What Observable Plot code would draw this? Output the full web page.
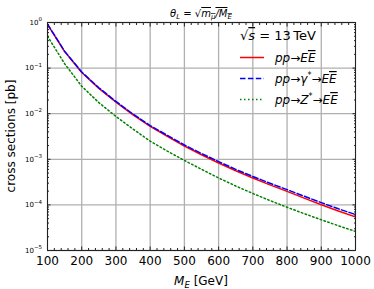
<!DOCTYPE html>
<html>
<head>
<meta charset="utf-8">
<script src="https://cdn.jsdelivr.net/npm/d3@7"></script>
<script src="https://cdn.jsdelivr.net/npm/@observablehq/plot@0.6"></script>
<style>
  html, body { margin: 0; padding: 0; background: #fff; }
  svg { display: block; }
</style>
</head>
<body>
<div id="chart"></div>
<script>
// ---- data ----
const massGeV = [100, 150, 200, 250, 300, 350, 400, 450, 500, 550, 600, 650, 700, 750, 800, 850, 900, 950, 1000];
const sigmaTotal = [0.91, 0.23, 0.080, 0.036, 0.018, 0.0094, 0.0053, 0.0032, 0.00195, 0.00126, 0.00083, 0.00056, 0.00039, 0.000275, 0.000198, 0.000141, 0.000101, 0.0000735, 0.0000545];
const sigmaGamma = [0.92, 0.235, 0.082, 0.037, 0.0186, 0.0098, 0.0055, 0.00335, 0.00206, 0.00134, 0.00089, 0.0006, 0.00042, 0.000298, 0.000216, 0.000155, 0.000112, 0.000082, 0.0000615];
const sigmaZ = [0.50, 0.125, 0.040, 0.0175, 0.0087, 0.0046, 0.0025, 0.00151, 0.000944, 0.000603, 0.000389, 0.00026, 0.000178, 0.0001245, 0.0000887, 0.0000643, 0.0000471, 0.0000349, 0.0000263];
const seriesNames = ["total", "gamma", "Z"];
const xTickValues = [100, 200, 300, 400, 500, 600, 700, 800, 900, 1000];
const yTickExponents = [0, -1, -2, -3, -4, -5];

// ---- derived tables ----
const rows = [];
[sigmaTotal, sigmaGamma, sigmaZ].forEach((arr, k) => {
  arr.forEach((v, i) => rows.push({series: seriesNames[k], m: massGeV[i], s: v}));
});
const yTicks = yTickExponents.map(e => Math.pow(10, e));
const xMinor = d3.range(100, 1001, 20).filter(v => v % 100 !== 0);
const yMinor = [];
for (let e = -5; e < 0; e++) for (let k = 2; k <= 9; k++) yMinor.push(k * Math.pow(10, e));

const gridStyle = {stroke: "#b0b0b0", strokeOpacity: 1, strokeWidth: 1.3};
const axisColor = "#222";

const svg = Plot.plot({
  width: 374,
  height: 289,
  marginLeft: 47,
  marginRight: 19,
  marginTop: 22,
  marginBottom: 39,
  style: {fontFamily: "DejaVu Sans", background: "#fff", color: axisColor},
  x: {domain: [100, 1000], axis: null},
  y: {type: "log", domain: [1e-5, 1], axis: null},
  marks: [
    Plot.gridX(xTickValues, gridStyle),
    Plot.gridY(yTicks, gridStyle),
    Plot.line(rows.filter(d => d.series === "total"), {x: "m", y: "s", stroke: "#ff0000", strokeWidth: 1.5, clip: true}),
    Plot.line(rows.filter(d => d.series === "gamma"), {x: "m", y: "s", stroke: "#0000ff", strokeWidth: 1.5, strokeDasharray: "5.5,2.4", clip: true}),
    Plot.line(rows.filter(d => d.series === "Z"), {x: "m", y: "s", stroke: "#008000", strokeWidth: 1.5, strokeDasharray: "1.5,2.5", clip: true}),
    Plot.frame({stroke: axisColor, strokeWidth: 1}),
    // major ticks inward
    Plot.axisX(xTickValues, {anchor: "bottom", tickSize: -3.5, tickPadding: 9, fontSize: 12, label: null, stroke: axisColor, fill: "#000",
      tickFormat: d => String(d)}),
    Plot.axisX(xTickValues, {anchor: "top", tickSize: -3.5, fill: "none", label: null, stroke: axisColor}),
    Plot.axisX(xMinor, {anchor: "bottom", tickSize: -2, fill: "none", label: null, stroke: axisColor}),
    Plot.axisX(xMinor, {anchor: "top", tickSize: -2, fill: "none", label: null, stroke: axisColor}),
    Plot.axisY(yTicks, {anchor: "left", tickSize: -3.5, tickPadding: 9, fontSize: 7, label: null, stroke: axisColor, fill: "#000",
      tickFormat: d => "10^" + Math.round(Math.log10(d))}),
    Plot.axisY(yTicks, {anchor: "right", tickSize: -3.5, fill: "none", label: null, stroke: axisColor}),
    Plot.axisY(yMinor, {anchor: "left", tickSize: -2, fill: "none", label: null, stroke: axisColor}),
    Plot.axisY(yMinor, {anchor: "right", tickSize: -2, fill: "none", label: null, stroke: axisColor})
  ]
});

const s = d3.select(svg);

// superscript y tick labels
s.selectAll('g[aria-label="y-axis tick label"] text').each(function() {
  const txt = this.textContent;
  const exp = txt.split("^")[1].replace("-", "\u2212");
  const el = d3.select(this);
  el.text(null);
  el.append("tspan").text("10");
  el.append("tspan").attr("dy", "-3.5").attr("font-size", 5.5).text(exp);
});

// title
const title = s.append("text").attr("x", 201).attr("y", 17).attr("text-anchor", "middle")
  .attr("font-size", 10).attr("fill", "#000");
title.append("tspan").attr("font-style", "italic").text("\u03b8");
title.append("tspan").attr("font-size", 7).attr("dy", 2).attr("font-style", "italic").text("L");
title.append("tspan").attr("dy", -2).text(" = \u221a");
title.append("tspan").attr("style", "text-decoration: overline").attr("font-style", "italic").text("m");
title.append("tspan").attr("font-size", 7).attr("dy", 2).attr("font-style", "italic").attr("style", "text-decoration: overline").text("\u03bc");
title.append("tspan").attr("dy", -2).attr("font-style", "italic").attr("style", "text-decoration: overline").text("/M");
title.append("tspan").attr("font-size", 7).attr("dy", 2).attr("font-style", "italic").attr("style", "text-decoration: overline").text("E");

// x label
const xl = s.append("text").attr("x", 201).attr("y", 285).attr("text-anchor", "middle")
  .attr("font-size", 12).attr("fill", "#000");
xl.append("tspan").attr("font-style", "italic").text("M");
xl.append("tspan").attr("font-style", "italic").attr("font-size", 8.5).attr("dy", 2.5).text("E");
xl.append("tspan").attr("dy", -2.5).text(" [GeV]");

// y label
s.append("text").attr("transform", "translate(15,136) rotate(-90)").attr("text-anchor", "middle")
  .attr("font-size", 12).attr("fill", "#000").text("cross sections [pb]");

// legend
const lg = s.append("g").attr("fill", "#000").attr("text-anchor", "start");
const energy = lg.append("text").attr("x", 240).attr("y", 40).attr("font-size", 13).attr("text-anchor", "start");
energy.append("tspan").text("\u221a");
energy.append("tspan").attr("font-style", "italic").attr("style", "text-decoration: overline").text("s");
energy.append("tspan").text(" = 13\u2009TeV");

const entries = [
  {color: "#ff0000", dash: null, mid: ""},
  {color: "#0000ff", dash: "5.5,2.4", mid: "\u03b3*"},
  {color: "#008000", dash: "1.5,2.5", mid: "Z*"}
];
entries.forEach((e, i) => {
  const yy = 57.5 + i * 21;
  lg.append("line").attr("x1", 240).attr("x2", 264).attr("y1", yy).attr("y2", yy)
    .attr("stroke", e.color).attr("stroke-width", 1.5).attr("stroke-dasharray", e.dash);
  const t = lg.append("text").attr("x", 275).attr("y", yy + 4.5).attr("font-size", 12)
    .attr("font-style", "italic").attr("text-anchor", "start");
  t.append("tspan").text("pp\u2192");
  if (e.mid) {
    t.append("tspan").text(e.mid.replace("*", ""));
    t.append("tspan").attr("font-size", 8).attr("dy", -5).attr("font-style", "normal").text("*");
    t.append("tspan").attr("dy", 5).attr("font-style", "normal").text("\u2192");
  }
  t.append("tspan").text("E");
  t.append("tspan").attr("style", "text-decoration: overline").text("E");
});

document.getElementById("chart").appendChild(svg);
</script>
</body>
</html>
